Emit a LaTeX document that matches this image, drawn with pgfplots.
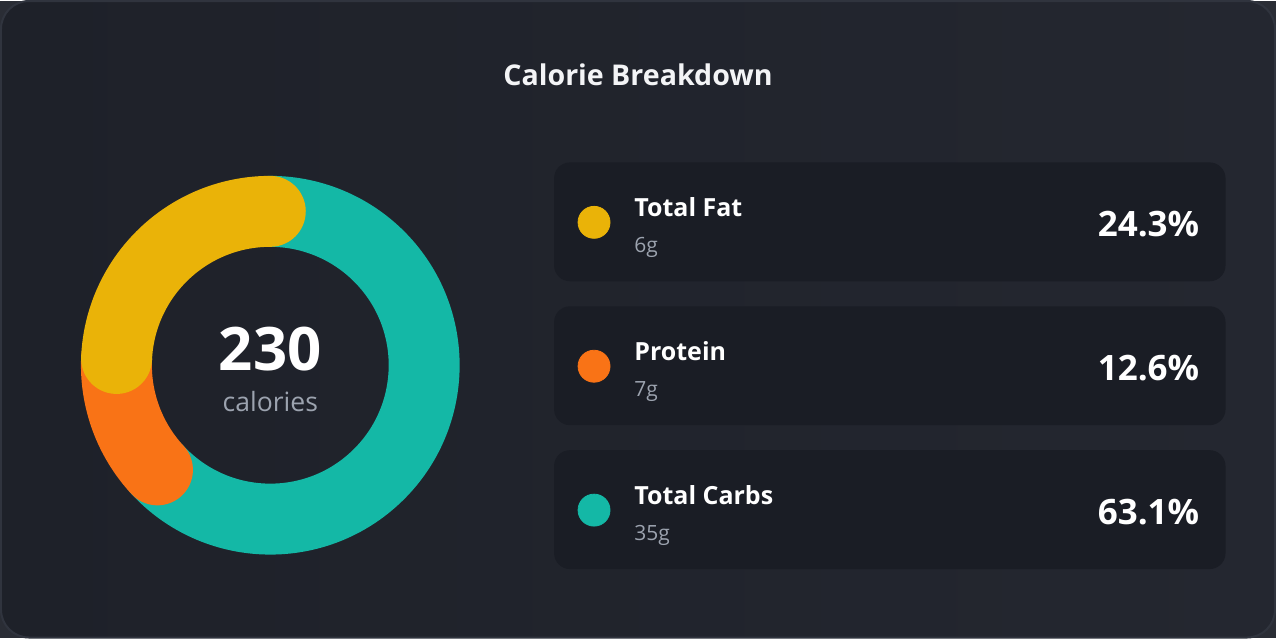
\documentclass[border=0pt]{standalone}
\usepackage{pgfplots}
\usepackage{pgfplotstable}
\pgfplotsset{compat=1.18}
\usepackage{fontspec}
\setmainfont{Open Sans}
\definecolor{outerbg}{HTML}{2A2D35}
\definecolor{bgA}{HTML}{1E2129}
\definecolor{bgB}{HTML}{242730}
\definecolor{cardbg}{HTML}{1A1D25}
\definecolor{borderc}{HTML}{30343E}
\definecolor{fatc}{HTML}{EAB308}
\definecolor{protc}{HTML}{F97316}
\definecolor{carbc}{HTML}{14B8A6}
\definecolor{mutedc}{HTML}{9CA3AF}
\definecolor{titlec}{HTML}{F3F4F6}

\pgfplotstableread[col sep=comma,row sep=\\]{
label,grams,pct\\
Total Fat,6,24.3\\
Protein,7,12.6\\
Total Carbs,35,63.1\\
}\nutri
\pgfplotstablegetelem{0}{pct}\of\nutri \let\pF\pgfplotsretval
\pgfplotstablegetelem{1}{pct}\of\nutri \let\pP\pgfplotsretval
\pgfplotstablegetelem{2}{pct}\of\nutri \let\pC\pgfplotsretval
\pgfplotstablegetelem{0}{grams}\of\nutri \let\gF\pgfplotsretval
\pgfplotstablegetelem{1}{grams}\of\nutri \let\gP\pgfplotsretval
\pgfplotstablegetelem{2}{grams}\of\nutri \let\gC\pgfplotsretval
\pgfmathsetmacro\aA{90}
\pgfmathsetmacro\aB{\aA+3.6*\pF}
\pgfmathsetmacro\aC{\aB+3.6*\pP}
\pgfmathsetmacro\aD{\aC+3.6*\pC}

\begin{document}
\begin{tikzpicture}
\begin{axis}[
  x=0.5pt, y=0.5pt, y dir=reverse,
  xmin=0, xmax=1276, ymin=0, ymax=638,
  hide axis, clip=false,
]
% background
\fill[outerbg] (axis cs:0,0) rectangle (axis cs:1276,638);
\shade[left color=bgA, right color=bgB, rounded corners=14pt, draw=borderc, line width=1pt]
  (axis cs:0.5,0.5) rectangle (axis cs:1275.5,637.5);
% title
\node[anchor=base, inner sep=0pt, text=titlec, font=\bfseries\fontsize{14.3}{16}\selectfont] at (axis cs:638,85) {Calorie Breakdown};
% donut
\begin{scope}[shift={(axis cs:270,365)}]
\draw[carbc, line width=35.5pt, line cap=round] (\aC:77pt) arc[start angle=\aC, end angle=\aD, radius=77pt];
\draw[protc, line width=35.5pt, line cap=round] (\aB:77pt) arc[start angle=\aB, end angle=\aC, radius=77pt];
\draw[fatc, line width=35.5pt, line cap=round] (\aA:77pt) arc[start angle=\aA, end angle=\aB, radius=77pt];
\end{scope}
\node[anchor=base, inner sep=0pt, text=white, font=\bfseries\fontsize{30}{32}\selectfont] at (axis cs:270,370) {230};
\node[anchor=base, inner sep=0pt, text=mutedc, font=\fontsize{13.3}{15}\selectfont] at (axis cs:270,411) {calories};
% legend cards
\fill[cardbg, rounded corners=8pt] (axis cs:554,162) rectangle (axis cs:1226,281);
\fill[cardbg, rounded corners=8pt] (axis cs:554,306) rectangle (axis cs:1226,425);
\fill[cardbg, rounded corners=8pt] (axis cs:554,450) rectangle (axis cs:1226,569);
\addplot[only marks, mark=*, mark size=8pt, fatc, mark options={draw=none, fill=fatc}] coordinates {(594,222)};
\addplot[only marks, mark=*, mark size=8pt, protc, mark options={draw=none, fill=protc}] coordinates {(594,366)};
\addplot[only marks, mark=*, mark size=8pt, carbc, mark options={draw=none, fill=carbc}] coordinates {(594,510)};
\tikzset{lab/.style={anchor=base west, inner sep=0pt, text=white, font=\bfseries\fontsize{12.5}{14}\selectfont},
         sub/.style={anchor=base west, inner sep=0pt, text=mutedc, font=\fontsize{10.5}{12}\selectfont},
         pct/.style={anchor=base east, inner sep=0pt, text=white, font=\bfseries\fontsize{17.5}{19}\selectfont}}
\node[lab] at (axis cs:634,216) {Total Fat};
\node[sub] at (axis cs:634,252) {\gF g};
\node[pct] at (axis cs:1200,236) {\pF\%};
\node[lab] at (axis cs:634,360) {Protein};
\node[sub] at (axis cs:634,396) {\gP g};
\node[pct] at (axis cs:1200,380) {\pP\%};
\node[lab] at (axis cs:634,504) {Total Carbs};
\node[sub] at (axis cs:634,540) {\gC g};
\node[pct] at (axis cs:1200,524) {\pC\%};
\end{axis}
\end{tikzpicture}
\end{document}
